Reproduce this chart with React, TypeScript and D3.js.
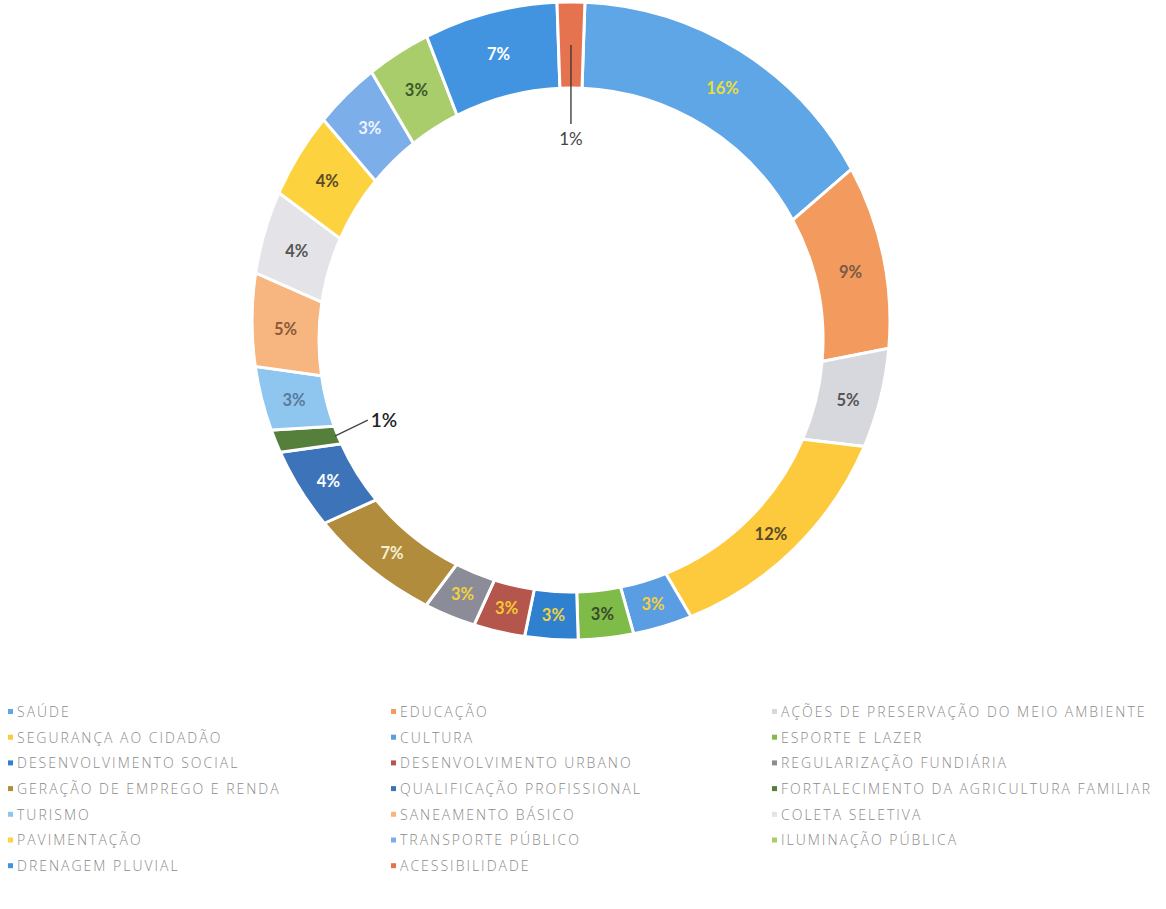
import React from "react";
import * as d3 from "d3";

const categories = [
  "SAÚDE",
  "EDUCAÇÃO",
  "AÇÕES DE PRESERVAÇÃO DO MEIO AMBIENTE",
  "SEGURANÇA AO CIDADÃO",
  "CULTURA",
  "ESPORTE E LAZER",
  "DESENVOLVIMENTO SOCIAL",
  "DESENVOLVIMENTO URBANO",
  "REGULARIZAÇÃO FUNDIÁRIA",
  "GERAÇÃO DE EMPREGO E RENDA",
  "QUALIFICAÇÃO PROFISSIONAL",
  "FORTALECIMENTO DA AGRICULTURA FAMILIAR",
  "TURISMO",
  "SANEAMENTO BÁSICO",
  "COLETA SELETIVA",
  "PAVIMENTAÇÃO",
  "TRANSPORTE PÚBLICO",
  "ILUMINAÇÃO PÚBLICA",
  "DRENAGEM PLUVIAL",
  "ACESSIBILIDADE",
];

// percent shares
const values = [16.49, 9.3, 5.1, 12.49, 3.0, 2.8, 2.7, 2.6, 2.6, 6.6, 4.2, 1.2, 3.3, 4.7, 4.2, 4.3, 3.4, 3.3, 6.8, 1.4];

const colors = [
  "#5fa6e6", "#f39a5e", "#d7d8de", "#fcca3c", "#5b9de2",
  "#7fbb48", "#2f80cf", "#b4564b", "#8c8c98", "#b18c3c",
  "#3d74b9", "#54803c", "#8fc6f0", "#f7b67f", "#e3e3e8",
  "#fcd23e", "#7caeea", "#a9cd6b", "#4294e0", "#e5734f",
];

const labelColors = [
  "#e6df3a", "#7a5a48", "#555555", "#5a4a2a", "#f2d23a",
  "#3b4a2c", "#f2d23a", "#f7c832", "#f2d23a", "#f6f0d2",
  "#ffffff", "#222222", "#5a7a9a", "#8a5a3a", "#555555",
  "#5a4a2a", "#eef4ff", "#3a5a2a", "#ffffff", "#444444",
];

const W = 1166;
const H = 909;
// the scanned ring is slightly skewed: outer and inner edges have different centres
const outerC = { x: 571, y: 321, r: 319 };
const innerC = { x: 571, y: 340, r: 252 };
const rotation = (2.5 * Math.PI) / 180;

export default function App() {
  const total = d3.sum(values);
  const pie = d3
    .pie<number>()
    .sort(null)
    .value((d) => d)
    .startAngle(rotation)
    .endAngle(rotation + 2 * Math.PI);
  const arcs = pie(values);
  const fmt = d3.format(".0%");
  const outside = new Set([11, 19]);

  const pt = (c: { x: number; y: number }, a: number, r: number): [number, number] => [
    c.x + Math.sin(a) * r,
    c.y - Math.cos(a) * r,
  ];

  const slicePath = (a: d3.PieArcDatum<number>) => {
    const p = d3.path();
    const o0 = pt(outerC, a.startAngle, outerC.r);
    p.moveTo(o0[0], o0[1]);
    p.arc(outerC.x, outerC.y, outerC.r, a.startAngle - Math.PI / 2, a.endAngle - Math.PI / 2, false);
    const i1 = pt(innerC, a.endAngle, innerC.r);
    p.lineTo(i1[0], i1[1]);
    p.arc(innerC.x, innerC.y, innerC.r, a.endAngle - Math.PI / 2, a.startAngle - Math.PI / 2, true);
    p.closePath();
    return p.toString();
  };

  const centroid = (a: d3.PieArcDatum<number>): [number, number] => {
    const m = (a.startAngle + a.endAngle) / 2;
    const o = pt(outerC, m, outerC.r);
    const i = pt(innerC, m, innerC.r);
    return [(o[0] + i[0]) / 2, (o[1] + i[1]) / 2];
  };

  const legendCols = [8, 391, 772];
  const legendRow0 = 712;
  const legendStep = 25.7;

  const acc = arcs[19];
  const accMid = (acc.startAngle + acc.endAngle) / 2;
  const accC = centroid(acc);
  const accIn = pt(innerC, accMid, innerC.r - 36);
  const accLbl = pt(innerC, accMid, innerC.r - 51);

  const fort = arcs[11];
  const fortMid = (fort.startAngle + fort.endAngle) / 2;
  const f0 = pt(innerC, fortMid, innerC.r + 3);
  const f1: [number, number] = [f0[0] + 33, f0[1] - 16];

  return (
    <svg
      width={W}
      height={H}
      style={{ position: "absolute", left: 0, top: 0, background: "#fff" }}
      fontFamily="Lato, 'Open Sans', sans-serif"
    >
      <g>
        {arcs.map((a, i) => (
          <path key={i} d={slicePath(a)} fill={colors[i]} stroke="#fff" strokeWidth={3} />
        ))}
        {arcs.map((a, i) => {
          if (outside.has(i)) return null;
          const [x, y] = centroid(a);
          return (
            <text
              key={"l" + i}
              x={x}
              y={y}
              dy="0.35em"
              textAnchor="middle"
              fontSize={16.5}
              fontWeight={700}
              fill={labelColors[i]}
            >
              {fmt(values[i] / total)}
            </text>
          );
        })}
        <line x1={accC[0]} y1={accC[1]} x2={accIn[0]} y2={accIn[1]} stroke="#333" strokeWidth={1.3} />
        <text x={accLbl[0]} y={accLbl[1]} dy="0.35em" textAnchor="middle" fontSize={17} fill={labelColors[19]}>
          {fmt(values[19] / total)}
        </text>
        <line x1={f0[0]} y1={f0[1]} x2={f1[0]} y2={f1[1]} stroke="#444" strokeWidth={1.3} />
        <text x={f1[0] + 3} y={f1[1]} dy="0.35em" textAnchor="start" fontSize={19} fontWeight={600} fill={labelColors[11]}>
          {fmt(values[11] / total)}
        </text>
      </g>
      <g fontFamily="'Open Sans', sans-serif">
        {categories.map((c, i) => {
          const col = i % 3;
          const row = Math.floor(i / 3);
          const x = legendCols[col];
          const y = legendRow0 + row * legendStep;
          return (
            <g key={"g" + i} transform={`translate(${x},${y})`}>
              <rect x={0} y={-3} width={5} height={5} fill={colors[i]} />
              <text x={9} y={0} dy="0.35em" fontSize={14} fontWeight={300} letterSpacing={2} fill="#8a8a8a">
                {c}
              </text>
            </g>
          );
        })}
      </g>
    </svg>
  );
}
